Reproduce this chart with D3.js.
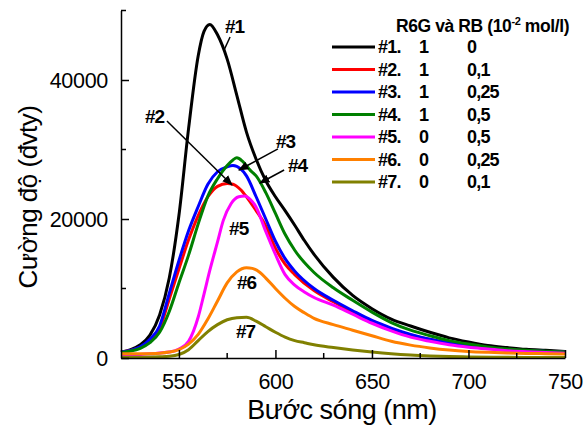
<!DOCTYPE html>
<html><head><meta charset="utf-8">
<script src="https://cdn.jsdelivr.net/npm/d3@7"></script>
<style>
html,body{margin:0;padding:0;background:#fff;}
svg{display:block;font-family:"Liberation Sans",Arial,sans-serif;}
</style></head>
<body>
<svg id="chart" width="586" height="425"></svg>
<script>
// ---- data ----
const wl1 = [520,525,530,535,540,545,550,555,560,563,566,570,575,580,585,590,595,600,605,610,615,620,630,640,650,660,670,680,690,700,710,720,730,740,750];
const s1  = [850,1200,1900,3300,6200,11500,20500,33000,43500,47000,48000,46500,43000,37800,32500,28600,25500,23200,21200,19100,16900,14900,11600,9000,7100,5600,4600,3700,2900,2300,1800,1500,1250,1100,950];

const wl2 = [520,525,530,535,540,545,550,555,560,565,570,575,578,582,585,590,595,600,605,610,620,630,640,650,660,670,680,690,700,710,720,730,740,750];
const s2  = [850,1100,1550,2500,4200,8500,12800,17000,20500,23200,24700,25100,25000,24200,23200,21200,19000,15800,13500,12000,9700,8100,6600,5300,4200,3300,2650,2150,1700,1400,1180,1030,930,850];

const wl3 = [520,525,530,535,540,545,550,555,560,565,570,575,578,582,585,590,595,600,605,610,620,630,640,650,660,670,680,690,700,710,720,730,740,750];
const s3  = [850,1100,1600,2700,4600,9300,14000,18300,21800,25000,26800,27500,27700,27200,26200,23200,20000,16800,14300,12500,10000,8300,6800,5400,4300,3400,2700,2200,1750,1450,1200,1050,950,870];

const wl4 = [520,525,530,535,540,545,550,555,560,565,570,575,578,580,583,587,590,595,600,605,610,620,630,640,650,660,670,680,690,700,710,720,730,740,750];
const s4  = [800,1000,1400,2200,3700,6700,10800,14800,19300,23300,25800,27700,28500,28800,28300,27000,26200,23800,20800,17800,15500,12300,10100,8300,6600,5100,4000,3200,2500,2000,1600,1300,1100,980,880];

const wl5 = [520,525,530,535,540,545,550,555,560,563,566,570,573,577,581,584,587,590,595,600,605,610,615,620,630,640,650,660,670,680,690,700,710,720,730,740,750];
const s5  = [450,470,520,600,720,850,1300,2400,5900,9200,12600,16700,19800,22200,23200,23300,22800,21700,18200,14900,12000,10500,9500,8700,7600,6300,5000,3900,3000,2400,1900,1550,1300,1050,900,780,700];

const wl6 = [520,530,540,545,550,555,560,565,570,575,580,585,588,592,595,600,605,610,615,620,630,640,650,660,670,680,690,700,710,720,730,740,750];
const s6  = [600,620,700,850,1200,2000,3400,5600,8200,10800,12400,13000,12900,12300,11500,10000,8600,7400,6500,5700,4800,4000,3200,2400,1850,1450,1150,950,820,720,660,620,580];

const wl7 = [520,530,540,545,550,555,560,565,570,575,580,585,590,595,600,605,610,615,620,630,640,650,660,670,680,690,700,720,750];
const s7  = [100,120,180,250,500,1200,2500,3800,4800,5500,5800,5850,5300,4500,3700,3000,2500,2200,1900,1500,1150,850,600,420,300,220,160,100,60];

const seriesNames = ["#1.","#2.","#3.","#4.","#5.","#6.","#7."];
const seriesColors = ["#000000","#ff0000","#0000ff","#008000","#ff00ff","#ff8000","#808000"];
const r6g = ["1","1","1","1","0","0","0"];
const rb  = ["0","0,1","0,25","0,5","0,5","0,25","0,1"];

const xTicks = [550,600,650,700,750];
const xMinor = [575,625,675,725];
const yTicks = [0,20000,40000];
const yMinor = [10000,30000,50000];

// annotations in data units
const annLabels = ["#1","#2","#3","#4","#5","#6","#7"];
const annText = [[573.9,46770],[532.4,33820],[600.3,30220],[606.5,26770],[576,17700],[580.1,9930],[579.6,2880]];
const annLines = [
  {from:[576.5,46190], to:[573.4,44320], arrow:false},
  {from:[543.8,34100], to:[577.5,24900], arrow:true},
  {from:[601.3,30080], to:[581.1,27050], arrow:true},
  {from:[604.5,27050], to:[592.0,25180], arrow:true}
];

// ---- chart ----
const svg = d3.select("#chart");
const x = d3.scaleLinear().domain([520,750]).range([121,565]);
const y = d3.scaleLinear().domain([0,50000]).range([358,10.5]);

const all = [[wl1,s1],[wl2,s2],[wl3,s3],[wl4,s4],[wl5,s5],[wl6,s6],[wl7,s7]];
const line = d3.line().x(d=>x(d[0])).y(d=>y(d[1])).curve(d3.curveMonotoneX);

const plot = svg.append("g");
all.forEach(([w,s],i)=>{
  const pts = w.map((v,j)=>[v,s[j]]);
  plot.append("path").datum(pts).attr("d",line)
    .attr("fill","none").attr("stroke",seriesColors[i]).attr("stroke-width",3)
    .attr("stroke-linejoin","round");
});

// axes
const xAxis = svg.append("g").attr("transform",`translate(0,${y(0)})`)
  .call(d3.axisBottom(x).tickValues(xTicks).tickSizeInner(-8).tickSizeOuter(0).tickPadding(16).tickFormat(d3.format("d")));
xAxis.append("g").selectAll("line").data(xMinor).join("line")
  .attr("x1",d=>x(d)).attr("x2",d=>x(d)).attr("y1",0).attr("y2",-5).attr("stroke","#000").attr("stroke-width",1.5);
const yAxis = svg.append("g").attr("transform",`translate(${x(520)},0)`)
  .call(d3.axisLeft(y).tickValues(yTicks).tickSizeInner(-8).tickSizeOuter(0).tickPadding(13).tickFormat(d3.format("d")));
yAxis.append("g").selectAll("line").data(yMinor).join("line")
  .attr("y1",d=>y(d)).attr("y2",d=>y(d)).attr("x1",0).attr("x2",5).attr("stroke","#000").attr("stroke-width",1.5);
[xAxis,yAxis].forEach(a=>{
  a.select(".domain").attr("stroke","#000").attr("stroke-width",1.5);
  a.selectAll(".tick line").attr("stroke","#000").attr("stroke-width",1.5);
  a.selectAll("text").attr("font-size",21.5).attr("font-family","Liberation Sans, Arial, sans-serif").attr("fill","#000").attr("letter-spacing","-0.3px");
});
yAxis.selectAll(".tick text").attr("dy","0.36em");

// axis titles
svg.append("text").attr("x",342).attr("y",419).attr("text-anchor","middle")
  .attr("font-size",27).attr("letter-spacing","-0.5px").text("Bước sóng (nm)");
svg.append("text").attr("transform","translate(37,197) rotate(-90)").attr("text-anchor","middle")
  .attr("font-size",26).attr("letter-spacing","-0.5px").text("Cường độ (đvty)");

// annotations
const defs = svg.append("defs");
defs.append("marker").attr("id","arr").attr("viewBox","0 0 10 10").attr("refX",9).attr("refY",5)
  .attr("markerWidth",7).attr("markerHeight",7).attr("orient","auto")
  .append("path").attr("d","M0,1 L10,5 L0,9 z").attr("fill","#000");
annLines.forEach(a=>{
  svg.append("line").attr("x1",x(a.from[0])).attr("y1",y(a.from[1]))
    .attr("x2",x(a.to[0])).attr("y2",y(a.to[1])).attr("stroke","#000").attr("stroke-width",1.5)
    .attr("marker-end",a.arrow?"url(#arr)":null);
});
annLabels.forEach((t,i)=>{
  svg.append("text").attr("x",x(annText[i][0])).attr("y",y(annText[i][1]))
    .attr("font-size",19).attr("font-weight","bold").attr("letter-spacing","-1px").text(t);
});

// legend
const lg = svg.append("g");
const title = lg.append("text").attr("x",396).attr("y",32).attr("font-size",17.5).attr("font-weight","bold").attr("letter-spacing","-0.4px");
title.append("tspan").text("R6G và RB (10");
title.append("tspan").attr("font-size",11).attr("dy",-7).text("-2");
title.append("tspan").attr("dy",7).text(" mol/l)");
seriesNames.forEach((n,i)=>{
  const by = 53 + i*22.5;
  lg.append("line").attr("x1",332).attr("x2",375).attr("y1",by-6).attr("y2",by-6)
    .attr("stroke",seriesColors[i]).attr("stroke-width",3);
  const st = t=>t.attr("font-size",18).attr("font-weight","bold").attr("letter-spacing","-0.8px").attr("y",by);
  st(lg.append("text").attr("x",378).text(n));
  st(lg.append("text").attr("x",419).text(r6g[i]));
  st(lg.append("text").attr("x",467).text(rb[i]));
});
</script>
</body></html>
